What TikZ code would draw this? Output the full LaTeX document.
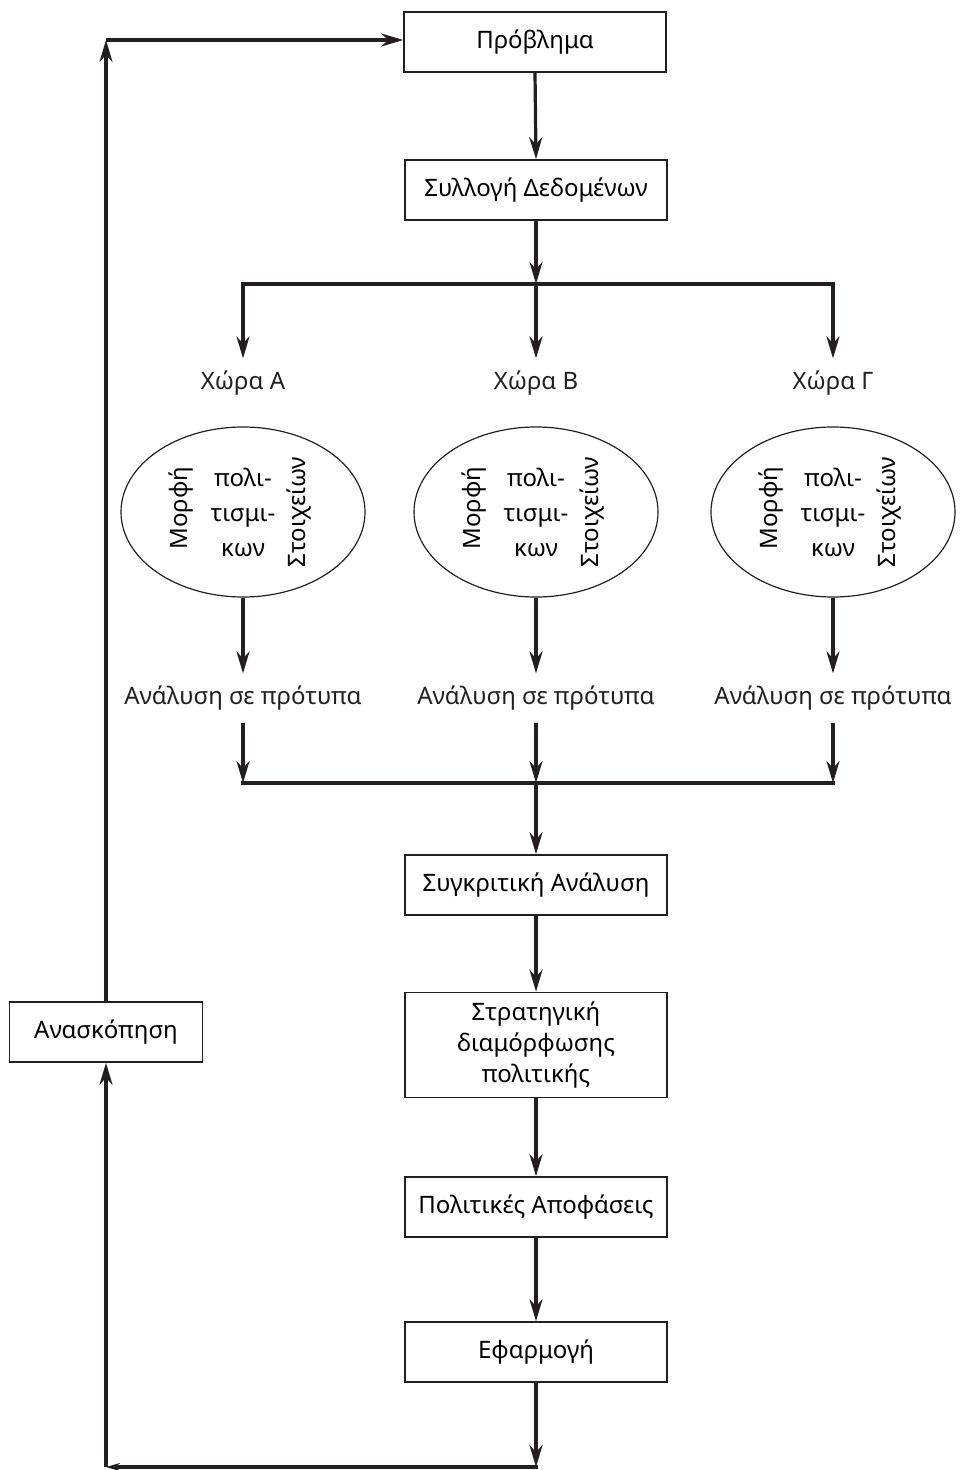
\documentclass[tikz,border=0pt]{standalone}
\usepackage{fontspec}
\setmainfont{Noto Sans}
\usetikzlibrary{arrows.meta, shapes.geometric}
\definecolor{my_black}{HTML}{231F20}

\begin{document}
\begin{tikzpicture}[
    x=0.5pt, y=-0.5pt,
    font=\fontsize{12}{17.5}\selectfont,
    box/.style={draw=my_black, line width=0.8pt, minimum width=131pt,
                minimum height=30pt, align=center, inner sep=2pt},
    caption/.style={text=my_black, inner sep=6pt},
    culture/.style={ellipse, draw=my_black, line width=0.6pt, inner sep=0pt,
                    minimum width=122pt, minimum height=85pt, align=center},
    flow/.style={draw=my_black, line width=1.6pt, -{Stealth[length=11pt, width=6.5pt]}},
    rail/.style={draw=my_black, line width=1.6pt, line cap=rect}
]
\useasboundingbox (0,0) rectangle (959,1470);

%% ================================================================
%% OBEN: Problem und Daten
%% ================================================================
\node[box] (problem) at (535,42)  {Πρόβλημα};
\node[box] (data)    at (536,190) {Συλλογή Δεδομένων};

\coordinate (splitA) at (243,284);
\coordinate (splitB) at (536,284);
\coordinate (splitG) at (833,284);

\draw[flow] (problem.south) -- (data.north);
\draw[flow] (data.south) -- (splitB);
\draw[rail] (splitA) -- (splitG);

%% ================================================================
%% DREI LAENDER
%% ================================================================
\foreach \x/\c/\name in {243/A/Α, 536/B/Β, 833/G/Γ} {
    \node[caption] (country\c) at (\x,383) {Χώρα \name};
    \node[culture] (form\c) at (\x,512) {πολι-\\τισμι-\\κων};
    \node[rotate=90, inner sep=0pt] (formL\c) at (\x-62,508) {Μορφή};
    \node[rotate=90, inner sep=0pt] (formR\c) at (\x+56,512) {Στοιχείων};
    \node[caption] (analysis\c) at (\x,698) {Ανάλυση σε πρότυπα};
    \coordinate (merge\c) at (\x,783);

    \draw[flow] (split\c) -- (country\c.north);
    \draw[flow] (form\c.south) -- (analysis\c.north);
    \draw[flow] (analysis\c.south) -- (merge\c);
}
\draw[rail] (mergeA) -- (mergeG);

%% ================================================================
%% UNTEN: Politikzyklus
%% ================================================================
\node[box] (compare) at (536,885) {Συγκριτική Ανάλυση};
\node[box, minimum height=52.5pt, font=\fontsize{12}{15.5}\selectfont]
    (strategy) at (536,1045) {Στρατηγική\\διαμόρφωσης\\πολιτικής};
\node[box] (decisions) at (536,1207) {Πολιτικές Αποφάσεις};
\node[box] (apply)     at (536,1352) {Εφαρμογή};

\draw[flow] (mergeB) -- (compare.north);
\draw[flow] (compare.south) -- (strategy.north);
\draw[flow] (strategy.south) -- (decisions.north);
\draw[flow] (decisions.south) -- (apply.north);

%% --- Rueckkopplung ueber Ueberpruefung ---
\node[box, minimum width=96.5pt] (review) at (106,1032) {Ανασκόπηση};

\coordinate (bottomR) at (536,1467);
\coordinate (bottomL) at (106,1467);
\coordinate (topL)    at (106,40);

\draw[flow] (apply.south) -- (bottomR);
\draw[rail, -{Stealth[length=7pt, width=4pt]}] (bottomR) -- (bottomL);
\draw[flow] (bottomL) -- (review.south);
\draw[flow] (review.north) -- (topL);
\draw[flow] (topL) -- (problem.west |- topL);

\end{tikzpicture}
\end{document}
